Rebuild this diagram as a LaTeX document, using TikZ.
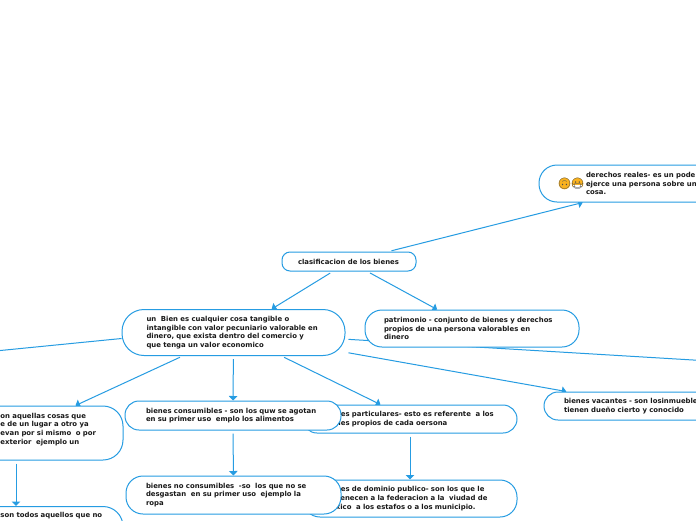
\documentclass[tikz,border=0pt]{standalone}
\usepackage{fontspec}
\setmainfont{DejaVu Sans}
\newfontfamily\emojifont{Noto Emoji}
\usepackage{tikz}
\usetikzlibrary{arrows.meta, backgrounds}
\definecolor{maplink}{RGB}{38,156,226}
\definecolor{maptext}{RGB}{25,25,25}
\definecolor{faceamber}{RGB}{250,178,30}
\tikzset{
  mapbox/.style={draw=maplink,fill=white,line width=1pt,text=maptext,align=left,
    font=\fontsize{6.9}{8.7}\selectfont\bfseries,inner ysep=0pt,inner xsep=21pt},
  maplink/.style={draw=maplink,line width=1pt,shorten <=3pt,-{Triangle[length=4.5pt,width=8.5pt]}},
  mapline/.style={draw=maplink,line width=1pt}
}
\begin{document}
\begin{tikzpicture}[x=1pt, y=-1pt]
        \useasboundingbox (0,0) rectangle (696,520);
        \clip (0,0) rectangle (696,520);
        % Top of the map
        \node[mapbox,rounded corners=8pt,minimum height=19pt,text width=102pt,inner xsep=16pt] (clasificacion) at (349,261.5) {clasificacion de los bienes};
        \node[mapbox,rounded corners=18pt,minimum height=37pt,text width=196pt] (derechos) at (658,183.5)
          {\hspace*{26pt}derechos reales- es un pode\\\hspace*{26pt}ejerce una persona sobre un\\\hspace*{26pt}cosa.};
        % Emoji on the reales node
        \fill[faceamber] (564.5,183.5) circle (5.8pt);
        \fill[faceamber] (577.5,183.5) circle (5.8pt);
        \fill[white] (573,185) rectangle (582,190);
        \node[font=\emojifont\fontsize{11}{11}\selectfont,text=black!70,inner sep=0pt] (upside) at (564.5,183.5) {🙃};
        \node[font=\emojifont\fontsize{11}{11}\selectfont,text=black!70,inner sep=0pt] (masked) at (577.5,183.5) {😷};
        % Second level
        \node[mapbox,rounded corners=22pt,minimum height=46pt,text width=174pt,inner xsep=24.5pt] (bien) at (233.5,332.5)
          {un\ \ Bien es cualquier cosa tangible o\\intangible con valor pecuniario valorable en\\dinero, que exista dentro del comercio y\\que tenga un valor economico};
        \node[mapbox,rounded corners=17pt,minimum height=37pt,text width=176pt,inner xsep=19pt] (patrimonio) at (472,328.5)
          {patrimonio - conjunto de bienes y derechos\\propios de una persona valorables en\\dinero};
        % Third level, back row first
        \node[mapbox,rounded corners=14pt,minimum height=28pt,text width=172pt] (particulares) at (410,419)
          {bienes particulares- esto es referente\ \ a los\\bienes propios de cada oersona};
        \node[mapbox,rounded corners=17pt,minimum height=37pt,text width=172pt] (dominio) at (410,498.5)
          {bienes de dominio publico- son los que le\\pertenecen a la federacion a la\ \ viudad de\\mexico\ \ a los estafos o a los municipio.};
        \node[mapbox,rounded corners=14pt,minimum height=29pt,text width=174pt] (consumibles) at (233,415.5)
          {bienes consumibles - son los quw se agotan\\en su primer uso\ \ emplo los alimentos};
        \node[mapbox,rounded corners=17pt,minimum height=38pt,text width=175pt,inner xsep=20pt] (noconsumibles) at (233.5,495)
          {bienes no consumibles\ \ -so\ \ los que no se\\desgastan\ \ en su primer uso\ \ ejemplo la\\ropa};
        \node[mapbox,rounded corners=14pt,minimum height=28pt,text width=168pt,inner xsep=20pt] (vacantes) at (648,406)
          {bienes vacantes - son losinmueble\\tienen dueño cierto y conocido};
        % Nodes cut by the left edge
        \node[mapbox,rounded corners=20pt,minimum height=54pt,text width=176pt,inner xsep=19pt] (muebles) at (16,433)
          {\hspace*{72.5pt}on aquellas cosas que\\\hspace*{72.5pt}e de un lugar a otro ya\\\hspace*{72.5pt}evan por si mismo\ \ o por\\\hspace*{72.5pt}exterior\ \ ejemplo un\\[0pt]\ };
        \node[mapbox,rounded corners=20pt,anchor=north,inner ysep=6pt,text width=176pt,inner xsep=19pt] (inmuebles) at (16,506)
          {\hspace*{72.5pt}son todos aquellos que no\\[30pt]\ };
        % Ends off the page
        \coordinate (offleft) at (-40,354.5);
        \coordinate (offright) at (760,364);
        % Connectors behind the nodes
        \begin{scope}[on background layer]
          \fill[white] (0,0) rectangle (696,520);
          \draw[maplink] (clasificacion) -- (derechos);
          \draw[maplink] (clasificacion) -- (bien);
          \draw[maplink] (clasificacion) -- (patrimonio);
          \draw[mapline] (bien.west) ++(0,6) -- (offleft);
          \draw[mapline,shorten <=3pt] (bien) -- (offright);
          \draw[maplink] (bien) -- (muebles);
          \draw[maplink] (bien) -- (consumibles);
          \draw[maplink] (bien) -- (particulares);
          \draw[maplink] (bien) -- (vacantes);
          \draw[maplink] (consumibles) -- (noconsumibles);
          \draw[maplink] (particulares) -- (dominio);
          \draw[maplink] (muebles) -- (inmuebles);
        \end{scope}
\end{tikzpicture}
\end{document}
